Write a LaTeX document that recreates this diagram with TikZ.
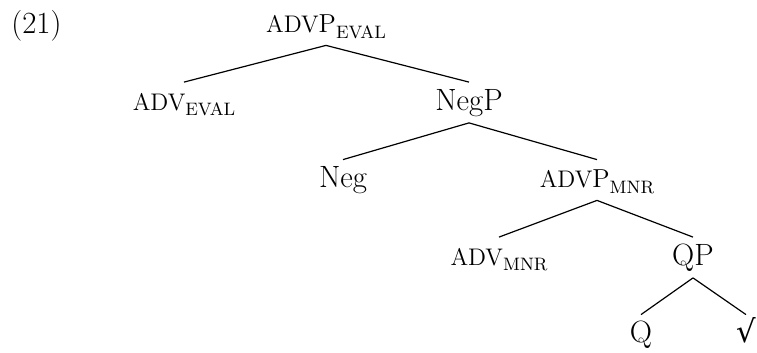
\documentclass[tikz,border=0pt]{standalone}
\usepackage{fontspec}
\usepackage{tikz}
\newfontfamily\rootfont{DejaVu Serif}
\newcommand{\advlabel}[2]{{\fontsize{12}{14}\selectfont ADV}{\fontsize{13}{15}\selectfont #1}\raisebox{-2.7pt}{\fontsize{9}{10}\selectfont #2}}

\begin{document}
\begin{tikzpicture}[x=0.5pt, y=-0.5pt, font=\fontsize{15.4}{18}\selectfont,
	cat/.style={anchor=base, inner sep=0pt, text height=14pt, text depth=6pt},
	branch/.style={draw=black, line width=0.6pt}]
	\useasboundingbox (0,0) rectangle (757,353);
	\node[anchor=base west, inner sep=0pt] (exnum) at (11,34) {(21)};
	\node[cat] (advpeval) at (326,33) {\advlabel{P}{EVAL}};
	\node[cat] (adveval) at (184,110.5) {\advlabel{}{EVAL}};
	\node[cat] (negp) at (469,110.5) {NegP};
	\node[cat] (neg) at (343,188) {Neg};
	\node[cat] (advpmnr) at (597,188) {\advlabel{P}{MNR}};
	\node[cat] (advmnr) at (499,265.5) {\advlabel{}{MNR}};
	\node[cat] (qp) at (693,265.5) {QP};
	\node[cat] (q) at (641,343) {Q};
	\node[cat] (root) at (746,343) {{\rootfont √}};
	\draw[branch] (advpeval.south) -- (adveval.north);
	\draw[branch] (advpeval.south) -- (negp.north);
	\draw[branch] (negp.south) -- (neg.north);
	\draw[branch] (negp.south) -- (advpmnr.north);
	\draw[branch] (advpmnr.south) -- (advmnr.north);
	\draw[branch] (advpmnr.south) -- (qp.north);
	\draw[branch] (qp.south) -- (q.north);
	\draw[branch] (qp.south) -- (root.north);
\end{tikzpicture}
\end{document}
